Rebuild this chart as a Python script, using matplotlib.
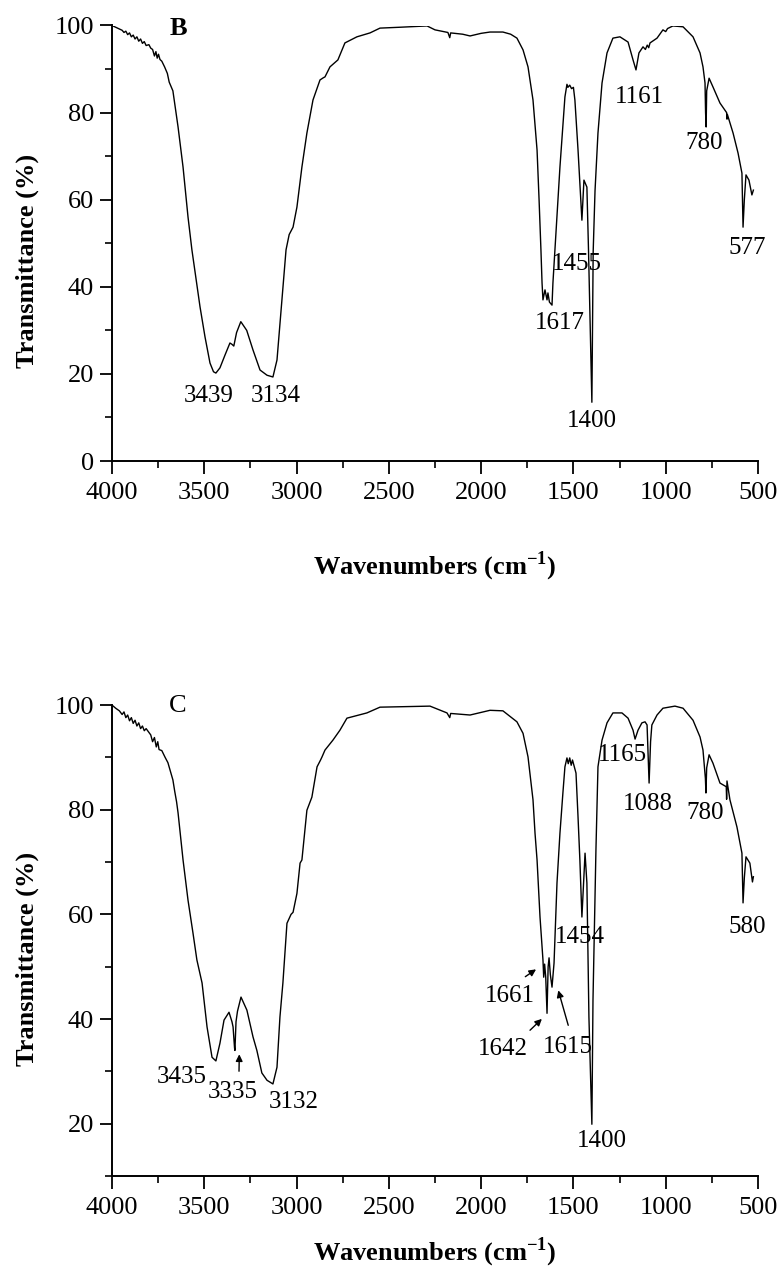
import matplotlib
matplotlib.use("Agg")
import matplotlib.pyplot as plt
from matplotlib.ticker import MultipleLocator

plt.rcParams["font.family"] = ["Liberation Serif", "DejaVu Serif"]
plt.rcParams["mathtext.fontset"] = "custom"
plt.rcParams["mathtext.rm"] = "Liberation Serif"
plt.rcParams["mathtext.bf"] = "Liberation Serif:bold"

# spectrum B (wavenumber, transmittance)
wn_b = [4000, 3980, 3960, 3945, 3935, 3925, 3915, 3905, 3895, 3885, 3875, 3865, 3855, 3845,
        3835, 3825, 3815, 3800, 3790, 3780, 3770, 3762, 3755, 3748, 3740, 3730, 3715, 3700,
        3690, 3680, 3670, 3660, 3650, 3642, 3615, 3588, 3567, 3523, 3496, 3469, 3450, 3437,
        3415, 3388, 3361, 3350, 3340, 3325, 3302, 3270, 3236, 3198, 3160, 3128, 3106, 3079,
        3057, 3040, 3019, 2998, 2971, 2944, 2911, 2873, 2855, 2846, 2819, 2776, 2738, 2673,
        2602, 2548, 2440, 2293, 2250, 2180, 2170, 2165, 2100, 2060, 2000, 1952, 1882, 1840,
        1806, 1773, 1746, 1719, 1697, 1686, 1676, 1670, 1665, 1654, 1643, 1638, 1630, 1616,
        1611, 1600, 1573, 1556, 1546, 1535, 1530, 1520, 1510, 1500, 1492, 1475, 1454, 1443,
        1427, 1418, 1400, 1393, 1383, 1367, 1345, 1318, 1286, 1248, 1204, 1177, 1161, 1145,
        1123, 1110, 1100, 1092, 1085, 1047, 1015, 1000, 990, 961, 906, 852, 814, 798, 787,
        784, 781, 778, 765, 744, 706, 670, 668, 666, 635, 608, 587, 581, 574, 565, 549, 533,
        525]
tr_b = [100, 99.6, 99.2, 98.9, 98.4, 98.7, 97.9, 98.3, 97.4, 97.8, 96.9, 97.4, 96.4, 96.9,
        95.9, 96.3, 95.4, 95.6, 94.8, 94.5, 93.0, 94.0, 92.5, 93.4, 92.2, 91.8, 90.5, 89.0,
        87.0, 86.0, 85.0, 82.0, 79.0, 76.7, 67.5, 56.0, 48.5, 35.4, 28.5, 22.5, 20.5, 20.2,
        21.4, 24.3, 27.1, 26.8, 26.4, 29.5, 32.0, 30.0, 25.5, 20.9, 19.7, 19.3, 23.2, 37.0,
        48.5, 52.0, 53.7, 58.3, 67.5, 75.3, 82.9, 87.5, 88.0, 88.2, 90.5, 92.1, 96.0, 97.4,
        98.3, 99.4, 99.6, 99.9, 99.0, 98.4, 97.2, 98.3, 98.0, 97.6, 98.2, 98.5, 98.5, 98.0,
        97.1, 94.4, 90.5, 82.9, 71.4, 59.9, 48.5, 40.9, 37.0, 39.3, 37.0, 38.6, 36.5, 35.8,
        40.9, 48.5, 67.5, 77.6, 83.6, 86.5, 85.8, 86.3, 85.5, 85.8, 82.9, 71.4, 55.3, 64.5,
        62.9, 48.0, 13.5, 48.0, 62.0, 75.3, 86.8, 93.7, 97.1, 97.4, 96.2, 92.1, 89.8, 93.7,
        95.1, 94.5, 95.5, 94.9, 96.0, 97.1, 99.0, 98.6, 99.3, 99.9, 99.7, 97.4, 93.7, 90.5, 86.8,
        80.0, 76.7, 85.0, 87.9, 85.9, 82.2, 80.0, 78.5, 79.6, 75.3, 70.7, 66.1, 53.7, 60.0, 65.7, 64.5, 61.1,
        62.2]

# spectrum C
wn_c = [4000, 3980, 3960, 3945, 3935, 3925, 3915, 3905, 3895, 3885, 3875, 3865, 3855, 3845,
        3835, 3825, 3815, 3800, 3790, 3780, 3770, 3760, 3752, 3745, 3730, 3712, 3697, 3685,
        3670, 3660, 3650, 3642, 3615, 3588, 3561, 3540, 3512, 3485, 3458, 3437, 3415, 3393,
        3366, 3350, 3344, 3336, 3334, 3328, 3320, 3301, 3269, 3236, 3215, 3188, 3160, 3128,
        3106, 3090, 3074, 3052, 3030, 3019, 2998, 2981, 2971, 2944, 2917, 2889, 2870, 2862,
        2846, 2803, 2765, 2727, 2619, 2548, 2277, 2185, 2170, 2165, 2060, 1952, 1882, 1806,
        1773, 1746, 1719, 1708, 1697, 1681, 1665, 1661, 1656, 1650, 1643, 1637, 1632, 1625,
        1616, 1605, 1589, 1573, 1557, 1546, 1535, 1528, 1520, 1512, 1505, 1486, 1475, 1465,
        1454, 1437, 1427, 1416, 1400, 1394, 1385, 1378, 1367, 1345, 1318, 1286, 1237, 1204,
        1177, 1166, 1150, 1129, 1112, 1101, 1090, 1082, 1075, 1047, 1015, 950, 906, 852, 814,
        798, 785, 782, 778, 765, 744, 706, 672, 670, 668, 652, 614, 587, 581, 574, 565, 544,
        530, 525]
tr_c = [100, 99.4, 98.9, 98.2, 98.7, 97.6, 98.1, 97.0, 97.6, 96.5, 97.1, 96.0, 96.6, 95.5,
        96.0, 95.1, 95.5, 94.8, 94.3, 93.0, 93.8, 92.0, 93.0, 91.5, 91.3, 90.0, 89.0, 87.5,
        85.7, 83.5, 81.5, 79.4, 70.4, 62.7, 56.4, 51.3, 46.9, 38.5, 32.7, 32.0, 35.4, 39.8,
        41.3, 39.5, 38.5, 34.5, 34.0, 39.5, 41.5, 44.2, 41.7, 36.6, 34.0, 29.7, 28.3, 27.6,
        30.8, 40.4, 46.9, 58.3, 60.0, 60.4, 64.0, 69.8, 70.4, 79.9, 82.4, 88.2, 89.5, 90.1,
        91.4, 93.3, 95.2, 97.5, 98.5, 99.6, 99.8, 98.5, 97.6, 98.4, 98.1, 99.0, 98.9, 96.8,
        94.6, 90.1, 81.9, 75.5, 70.4, 59.5, 51.3, 48.0, 50.5, 48.0, 41.1, 50.0, 51.7, 48.5,
        46.1, 50.7, 66.0, 75.5, 83.2, 88.2, 89.9, 88.8, 89.9, 88.5, 89.5, 87.0, 78.6, 70.4,
        59.5, 71.7, 66.0, 40.4, 19.9, 43.6, 60.0, 72.3, 88.2, 93.3, 96.6, 98.5, 98.5, 97.5,
        95.2, 93.5, 95.2, 96.6, 96.8, 96.2, 85.1, 93.0, 96.2, 98.1, 99.4, 99.8, 99.4, 97.1, 93.9,
        91.4, 86.0, 83.2, 88.0, 90.5, 88.9, 85.1, 84.4, 82.0, 85.5, 81.9, 76.7, 71.7, 62.2, 67.0, 71.0, 69.8,
        66.2, 67.2]

# peak labels: text, wavenumber, transmittance
labels_b = [("3439", 3474, 14.9), ("3134", 3111, 14.9), ("1617", 1573, 31.7),
            ("1455", 1481, 45.2), ("1400", 1400, 9.2), ("1161", 1145, 83.6),
            ("780", 793, 73.0), ("577", 560, 49.0)]
labels_c = [("3435", 3621, 28.9), ("3335", 3344, 26.0), ("3132", 3014, 24.1),
            ("1661", 1844, 44.4), ("1642", 1882, 34.3), ("1615", 1530, 34.7),
            ("1454", 1465, 55.7), ("1400", 1345, 16.7), ("1165", 1237, 90.5),
            ("1088", 1096, 81.1), ("780", 787, 79.4), ("580", 560, 57.6)]
# arrows in C: (tail wn, tail tr, head wn, head tr)
arrows_c = [(3312, 29.5, 3310, 33.8), (1773, 47.8, 1690, 49.8),
            (1746, 37.5, 1660, 40.4), (1524, 38.3, 1586, 46.0)]

fig = plt.figure(figsize=(7.82, 12.75), dpi=100)
ax1 = fig.add_axes([0.1432, 0.6384, 0.8261, 0.3416])
ax2 = fig.add_axes([0.1432, 0.0776, 0.8261, 0.3694])


def style(ax, ymin):
    ax.set_xlim(4000, 500)
    ax.set_ylim(ymin, 100)
    for s in ["top", "right"]:
        ax.spines[s].set_visible(False)
    for s in ["left", "bottom"]:
        ax.spines[s].set_linewidth(1.4)
    ax.xaxis.set_major_locator(MultipleLocator(500))
    ax.xaxis.set_minor_locator(MultipleLocator(250))
    ax.yaxis.set_major_locator(MultipleLocator(20))
    ax.yaxis.set_minor_locator(MultipleLocator(10))
    ax.tick_params(which="major", direction="out", length=9, width=1.3, labelsize=19, pad=4)
    ax.tick_params(which="minor", direction="out", length=5, width=1.2)
    ax.tick_params(axis="x", which="major", pad=6)
    ax.text(-0.1316, 0.46, "Transmittance (%)", transform=ax.transAxes, rotation=90,
            ha="center", va="center", fontsize=19, fontweight="bold")


style(ax1, 0)
style(ax2, 10)

ax1.plot(wn_b, tr_b, color="black", lw=1.0)
ax2.plot(wn_c, tr_c, color="black", lw=1.0)

ax1.text(0.5, -0.241, r"Wavenumbers (cm$^{\mathbf{-1}}$)", transform=ax1.transAxes,
         ha="center", va="center", fontsize=19, fontweight="bold")
ax2.text(0.5, -0.161, r"Wavenumbers (cm$^{\mathbf{-1}}$)", transform=ax2.transAxes,
         ha="center", va="center", fontsize=19, fontweight="bold")

ax1.text(3642, 99.2, "B", fontsize=19, fontweight="bold", ha="center", va="center")
ax2.text(3642, 99.8, "C", fontsize=19, ha="center", va="center")

for t, x, y in labels_b:
    ax1.text(x, y, t, fontsize=18, ha="center", va="center")
for t, x, y in labels_c:
    ax2.text(x, y, t, fontsize=18, ha="center", va="center")
for x0, y0, x1, y1 in arrows_c:
    ax2.annotate("", xy=(x1, y1), xytext=(x0, y0),
                 arrowprops=dict(arrowstyle="-|>", lw=1.0, color="black", mutation_scale=10))

fig.savefig("out.png", dpi=100)
